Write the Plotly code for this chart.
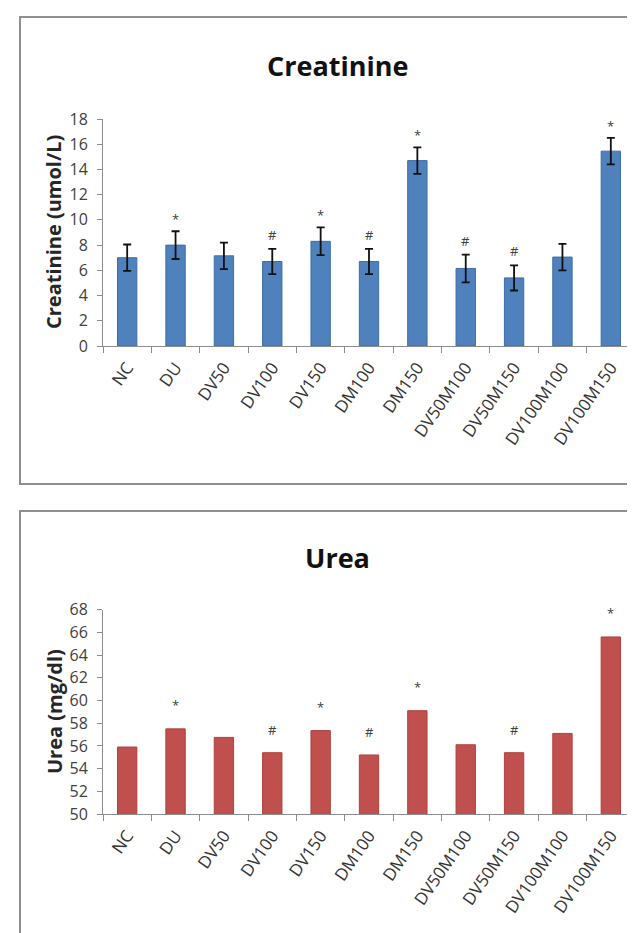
import plotly.graph_objects as go

# ---------------- data ----------------
categories = ["NC", "DU", "DV50", "DV100", "DV150", "DM100", "DM150",
              "DV50M100", "DV50M150", "DV100M100", "DV100M150"]
creatinine = [7.0, 8.0, 7.15, 6.7, 8.3, 6.7, 14.7, 6.15, 5.4, 7.05, 15.45]
creatinine_err = [1.05, 1.1, 1.05, 1.0, 1.1, 1.0, 1.05, 1.1, 1.0, 1.05, 1.05]
creatinine_marks = ["", "*", "", "#", "*", "#", "*", "#", "#", "", "*"]
creatinine_ticks = [0, 2, 4, 6, 8, 10, 12, 14, 16, 18]

urea = [55.9, 57.5, 56.75, 55.4, 57.35, 55.2, 59.1, 56.1, 55.4, 57.1, 65.6]
urea_marks = ["", "*", "", "#", "*", "#", "*", "", "#", "", "*"]
urea_ticks = [50, 52, 54, 56, 58, 60, 62, 64, 66, 68]

# ---------------- layout helpers ----------------
W, H = 635, 933
FONT = "Open Sans, sans-serif"
def px(x):
    return x / W
def py(y):
    return 1 - y / H

fig = go.Figure()

fig.add_trace(go.Bar(
    x=categories, y=creatinine,
    error_y=dict(type="data", array=creatinine_err, visible=True,
                 color="#111111", thickness=1.8, width=4),
    marker=dict(color="#4F81BD", line=dict(color="#3D6DA6", width=1)),
    xaxis="x", yaxis="y", showlegend=False,
))
fig.add_trace(go.Bar(
    x=categories, y=urea,
    marker=dict(color="#C0504D", line=dict(color="#B0403D", width=1)),
    xaxis="x2", yaxis="y2", showlegend=False,
))

line_common = dict(
    showline=True, linecolor="#8C8C8C", linewidth=1,
    showgrid=False, zeroline=False, automargin=False,
    ticks="outside", tickcolor="#8C8C8C",
)
xfont = dict(family=FONT, size=17, color="#333333")
yfont = dict(family=FONT, size=16, color="#404040")

fig.update_layout(
    width=W, height=H,
    margin=dict(l=0, r=0, t=0, b=0),
    paper_bgcolor="white", plot_bgcolor="white",
    template="none",
    bargap=0.6,
    showlegend=False,
    xaxis=dict(domain=[px(95), px(627)], anchor="y", tickangle=-55,
               tickson="boundaries", ticklen=6, tickfont=xfont,
               ticklabelstandoff=4, **line_common),
    yaxis=dict(domain=[py(338), py(111)], anchor="x", range=[0, 18],
               tickvals=creatinine_ticks, ticklen=5, tickfont=yfont,
               ticklabelstandoff=6, **line_common),
    xaxis2=dict(domain=[px(95), px(627)], anchor="y2", tickangle=-55,
                tickson="boundaries", ticklen=6, tickfont=xfont,
                ticklabelstandoff=4, **line_common),
    yaxis2=dict(domain=[py(806), py(601.7)], anchor="x2", range=[50, 68],
                tickvals=urea_ticks, ticklen=5, tickfont=yfont,
                ticklabelstandoff=6, **line_common),
)

# panel borders
for (y0, y1) in [(9, 476), (503, 945)]:
    fig.add_shape(type="rect", xref="paper", yref="paper",
                  x0=px(12), x1=px(633), y0=py(y1), y1=py(y0),
                  line=dict(color="#8F8F8F", width=2), fillcolor="rgba(0,0,0,0)")

# titles
for text, y in [("Creatinine", 57), ("Urea", 549)]:
    fig.add_annotation(text=f"<b>{text}</b>", xref="paper", yref="paper",
                       x=px(329), y=py(y), xanchor="center", yanchor="middle",
                       showarrow=False, font=dict(family=FONT, size=27, color="#111111"))

# axis titles
for text, y in [("Creatinine (umol/L)", 224), ("Urea (mg/dl)", 704)]:
    fig.add_annotation(text=f"<b>{text}</b>", xref="paper", yref="paper",
                       x=px(46), y=py(y), xanchor="center", yanchor="middle",
                       textangle=-90, showarrow=False,
                       font=dict(family=FONT, size=20, color="#262626"))

# significance marks
for c, v, e, m in zip(categories, creatinine, creatinine_err, creatinine_marks):
    if m:
        fig.add_annotation(x=c, y=v + e, xref="x", yref="y", text=m, showarrow=False,
                           yanchor="middle", yshift=12 if m == "*" else 14,
                           font=dict(family=FONT, size=13, color="#404040"))
for c, v, m in zip(categories, urea, urea_marks):
    if m:
        fig.add_annotation(x=c, y=v, xref="x2", yref="y2", text=m, showarrow=False,
                           yanchor="middle", yshift=24 if m == "*" else 23,
                           font=dict(family=FONT, size=13, color="#404040"))

fig.write_html("out.html")
